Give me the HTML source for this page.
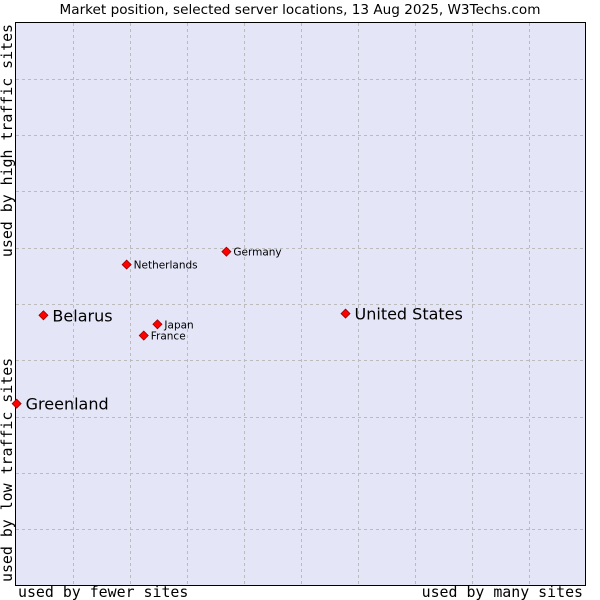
<!DOCTYPE html>
<html><head><meta charset="utf-8"><style>
html,body{margin:0;padding:0;background:#fff;}
svg{display:block;}
</style></head><body>
<svg id="chart" width="600" height="600" xmlns="http://www.w3.org/2000/svg">
<text x="300" y="14" text-anchor="middle" font-family="DejaVu Sans, sans-serif" font-size="13.6" fill="#000">Market position, selected server locations, 13 Aug 2025, W3Techs.com</text>
<rect x="15.5" y="22.5" width="570" height="563" fill="#e4e6f8" stroke="#000" stroke-width="1"/>
<g id="grid"></g>
<g id="points"></g>
<text x="18" y="597" font-family="DejaVu Sans Mono, monospace" font-size="14.9" fill="#000">used by fewer sites</text>
<text x="583" y="597" text-anchor="end" font-family="DejaVu Sans Mono, monospace" font-size="14.9" fill="#000">used by many sites</text>
<text transform="translate(12,24) rotate(-90)" text-anchor="end" font-family="DejaVu Sans Mono, monospace" font-size="14.9" fill="#000">used by high traffic sites</text>
<text transform="translate(12,582) rotate(-90)" font-family="DejaVu Sans Mono, monospace" font-size="14.9" fill="#000">used by low traffic sites</text>
</svg>
<script>
const names = ["Greenland","Belarus","Netherlands","France","Japan","Germany","United States"];
const xValues = [0.02,0.49,1.95,2.25,2.49,3.70,5.79];
const yValues = [3.23,4.80,5.70,4.44,4.64,5.93,4.83];
const bigLabel = [true,true,false,false,false,false,true];
const NS="http://www.w3.org/2000/svg";
const X0=15.5,W=570,Y0=585.5,H=563;
const xs=v=>X0+v*W/10, ys=v=>Y0-v*H/10;
const grid=document.getElementById('grid');
for(let i=1;i<10;i++){
  const lx=document.createElementNS(NS,'line');
  
  
  const x=Math.round(xs(i))+0.5;
  lx.setAttribute('x1',x);lx.setAttribute('x2',x);lx.setAttribute('y1',23);lx.setAttribute('y2',585);
  lx.setAttribute('stroke','#bbb');lx.setAttribute('stroke-dasharray','3,3');
  grid.appendChild(lx);
  const ly=document.createElementNS(NS,'line');
  
  
  const y=Math.round(ys(i))+0.5;
  ly.setAttribute('y1',y);ly.setAttribute('y2',y);ly.setAttribute('x1',16);ly.setAttribute('x2',585);
  ly.setAttribute('stroke','#bbb');ly.setAttribute('stroke-dasharray','3,3');
  grid.appendChild(ly);
}
const pts=document.getElementById('points');
names.forEach((n,i)=>{
  const cx=xs(xValues[i]), cy=ys(yValues[i]);
  const d=document.createElementNS(NS,'polygon');
  
  
  d.setAttribute('points',`${cx},${cy-4.5} ${cx+4.5},${cy} ${cx},${cy+4.5} ${cx-4.5},${cy}`);
  d.setAttribute('fill','#f00');d.setAttribute('stroke','#900');d.setAttribute('stroke-width','0.8');
  pts.appendChild(d);
  const t=document.createElementNS(NS,'text');
  
  
  t.setAttribute('x',cx+(bigLabel[i]?9:7));
  t.setAttribute('y',cy+(bigLabel[i]?6:4));
  t.setAttribute('font-family','DejaVu Sans, sans-serif');
  t.setAttribute('font-size',bigLabel[i]?'16':'10.5');
  t.textContent=n;
  pts.appendChild(t);
});
</script>
</body></html>
